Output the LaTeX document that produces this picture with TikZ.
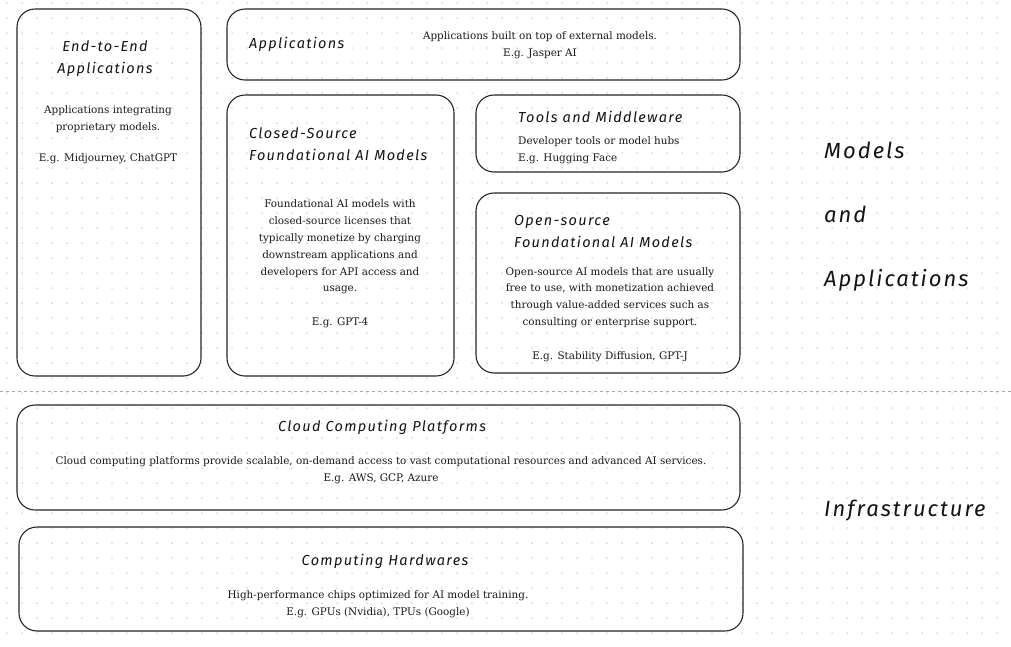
\documentclass[tikz,border=0pt]{standalone}
\usepackage{fontspec}
\setmainfont{DejaVu Serif}
\newfontfamily\hand[LetterSpace=9]{Fira Sans}
\begin{document}
\begin{tikzpicture}[x=1pt,y=-1pt,
  box/.style={draw=black!85,line width=1.1pt,rounded corners=18pt},
  htitle/.style={font=\hand\itshape\fontsize{14.5}{22}\selectfont,text=black!92,inner sep=0pt},
  hbig/.style={font=\hand\itshape\fontsize{22}{24}\selectfont,text=black!92,inner sep=0pt,anchor=west},
  body/.style={font=\fontsize{10.4}{16.8}\selectfont,text=black!90,inner sep=0pt,align=center}]
\useasboundingbox (0,0) rectangle (1011,646);
\fill[white] (0,0) rectangle (1011,646);
\foreach \i in {0,...,67}{\foreach \j in {0,...,43}{
  \fill[black!26] (7+15*\i,3+15*\j) circle (0.75pt);}}
% boxes
\draw[box] (17,9) rectangle (201,376);
\draw[box] (227,9) rectangle (740,80);
\draw[box] (227,95) rectangle (454,376);
\draw[box] (476,95) rectangle (740,172);
\draw[box] (476,193) rectangle (740,373);
\draw[box] (17,405) rectangle (740,510);
\draw[box] (19,527) rectangle (743,631);
\draw[black!35,dashed,line width=0.8pt] (0,391) -- (1011,391);
% End-to-End
\node[htitle,align=center] (e2eT) at (105,59) {End-to-End\\Applications};
\node[body] (e2eB) at (108,119) {Applications integrating\\proprietary models.};
\node[body] (e2eE) at (108,159) {E.g. Midjourney, ChatGPT};
% Applications
\node[htitle,anchor=west] (appT) at (249,44) {Applications};
\node[body] (appB) at (540,45) {Applications built on top of external models.\\E.g. Jasper AI};
% Closed source
\node[htitle,anchor=west,align=left] (csT) at (249,144) {Closed-Source\\Foundational AI Models};
\node[body] (csB) at (340,247) {Foundational AI models with\\closed-source licenses that\\typically monetize by charging\\downstream applications and\\developers for API access and\\usage.};
\node[body] (csE) at (340,323) {E.g. GPT-4};
% Tools
\node[htitle,anchor=west] (tlT) at (518,117) {Tools and Middleware};
\node[body,align=left,anchor=west] (tlB) at (518,150.5) {Developer tools or model hubs\\E.g. Hugging Face};
% Open source
\node[htitle,anchor=west,align=left] (osT) at (514,231) {Open-source\\Foundational AI Models};
\node[body] (osB) at (610,297.5) {Open-source AI models that are usually\\free to use, with monetization achieved\\through value-added services such as\\consulting or enterprise support.};
\node[body] (osE) at (610,357) {E.g. Stability Diffusion, GPT-J};
% Cloud
\node[htitle] (clT) at (382,427) {Cloud Computing Platforms};
\node[body] (clB) at (381,470.5) {Cloud computing platforms provide scalable, on-demand access to vast computational resources and advanced AI services.\\E.g. AWS, GCP, Azure};
% Hardware
\node[htitle] (hwT) at (385,561) {Computing Hardwares};
\node[body] (hwB) at (378,604.5) {High-performance chips optimized for AI model training.\\E.g. GPUs (Nvidia), TPUs (Google)};
% side labels
\node[hbig] (sM) at (824,150) {Models};
\node[hbig] (sA) at (824,214) {and};
\node[hbig] (sP) at (824,280) {Applications};
\node[hbig] (sI) at (824,511) {Infrastructure};
\end{tikzpicture}
\end{document}
